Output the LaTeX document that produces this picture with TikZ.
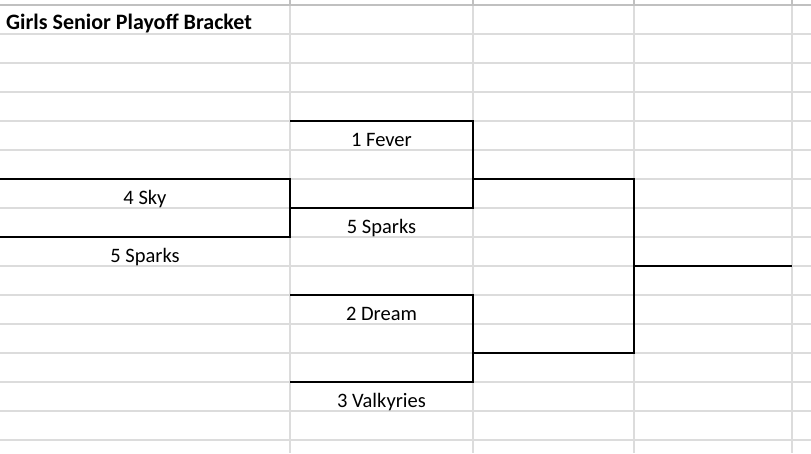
\documentclass[tikz,border=0pt]{standalone}
\usepackage{fontspec}
\setmainfont{Carlito}
\definecolor{gridgray}{HTML}{DCDCDC}
\definecolor{headgray}{HTML}{C0C0C0}
\begin{document}
\begin{tikzpicture}[x=1pt,y=-1pt,
  gridline/.style={draw=gridgray, line width=1.5pt},
  headline/.style={draw=headgray, line width=1.7pt},
  bracket/.style={draw=black, line width=2.2pt, line join=miter},
  team/.style={font=\fontsize{20.5}{24}\selectfont, anchor=base, inner sep=0pt},
  titletext/.style={font=\bfseries\fontsize{22}{26}\selectfont, anchor=base west, inner sep=0pt}]
\useasboundingbox[fill=white] (0,0) rectangle (811,453);
% grid
\foreach \k in {1,...,15} \draw[gridline] (0,{5+29*\k}) -- (811,{5+29*\k});
\foreach \x in {290,473,634,792} {
  \draw[gridline] (\x,5) -- (\x,453);
  \draw[headline] (\x,0) -- (\x,5);
}
\draw[headline] (0,5) -- (811,5);
% coordinates
\coordinate (skyL) at (0,179);   \coordinate (skyR) at (290,179);
\coordinate (spAL) at (0,237);   \coordinate (spAR) at (290,237);
\coordinate (fevL) at (290,121); \coordinate (fevR) at (473,121);
\coordinate (spBL) at (290,208); \coordinate (spBR) at (473,208);
\coordinate (drL) at (290,295);  \coordinate (drR) at (473,295);
\coordinate (vaL) at (290,382);  \coordinate (vaR) at (473,382);
\coordinate (j1) at (473,179);   \coordinate (f1t) at (634,179);
\coordinate (j2) at (473,353);   \coordinate (f1b) at (634,353);
\coordinate (fin) at (634,266);  \coordinate (champ) at (792,266);
% bracket lines
\draw[bracket] (skyL) -- (skyR) -- (spAR) -- (spAL);
\draw[bracket] (fevL) -- (fevR) -- (spBR) -- (spBL);
\draw[bracket] (drL) -- (drR) -- (vaR) -- (vaL);
\draw[bracket] (j1) -- (f1t) -- (f1b) -- (j2);
\draw[bracket] (fin) -- (champ);
% texts
\node[titletext] (title) at (6,29.5) {Girls Senior Playoff Bracket};
\node[team] (sky) at (145,204) {4 Sky};
\node[team] (sparksA) at (145,262) {5 Sparks};
\node[team] (fever) at (381.5,146) {1 Fever};
\node[team] (sparksB) at (381.5,233) {5 Sparks};
\node[team] (dream) at (381.5,320) {2 Dream};
\node[team] (valk) at (381.5,407) {3 Valkyries};
\end{tikzpicture}
\end{document}
